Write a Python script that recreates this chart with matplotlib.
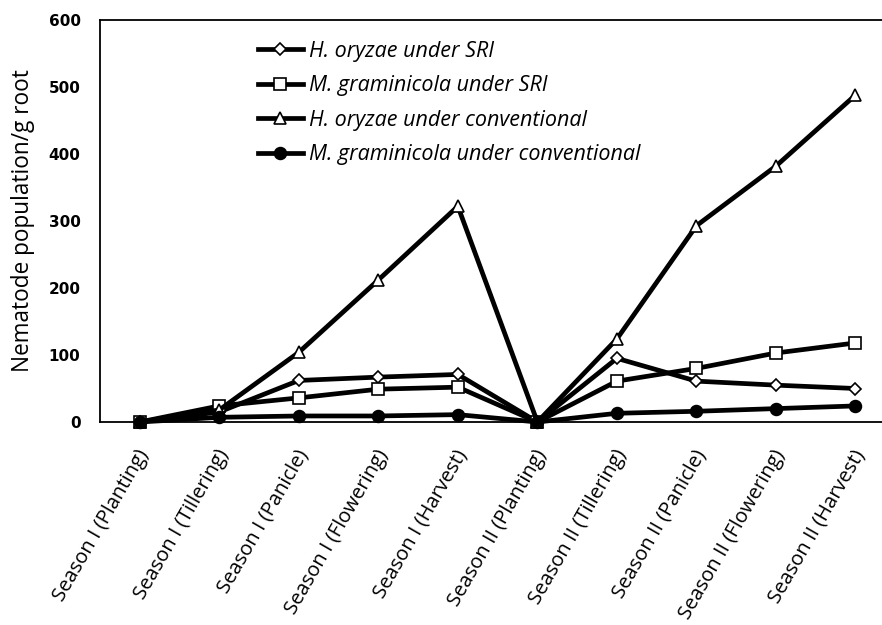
import matplotlib
matplotlib.use("Agg")
import matplotlib.pyplot as plt
import matplotlib.transforms as mtransforms

categories = ["Season I (Planting)", "Season I (Tillering)", "Season I (Panicle)",
              "Season I (Flowering)", "Season I (Harvest)", "Season II (Planting)",
              "Season II (Tillering)", "Season II (Panicle)", "Season II (Flowering)",
              "Season II (Harvest)"]
h_oryzae_sri = [0, 15, 62, 67, 71, 0, 95, 61, 55, 50]
m_gram_sri = [0, 24, 36, 49, 52, 0, 61, 80, 103, 118]
h_oryzae_conv = [0, 18, 104, 212, 322, 0, 124, 293, 382, 488]
m_gram_conv = [0, 7, 9, 9, 11, 0, 13, 16, 20, 24]
series_labels = ["H. oryzae under SRI", "M. graminicola under SRI",
                 "H. oryzae under conventional", "M. graminicola under conventional"]
yticks = [0, 100, 200, 300, 400, 500, 600]

fig = plt.figure(figsize=(8.82, 6.25), dpi=100)
ax = fig.add_axes([100/882, 1-422/625, 1-100/882, (422-20)/625])

x = list(range(len(categories)))
styles = [
    dict(marker="D", markersize=6.5, mfc="white"),
    dict(marker="s", markersize=8.5, mfc="white"),
    dict(marker="^", markersize=9, mfc="white"),
    dict(marker="o", markersize=8.5, mfc="black"),
]
for vals, lab, st in zip([h_oryzae_sri, m_gram_sri, h_oryzae_conv, m_gram_conv], series_labels, styles):
    ax.plot(x, vals, color="black", lw=3.4, mec="black", mew=1.2, label=lab, clip_on=False, zorder=3, **st)

ax.set_xlim(-0.5, (882-140)/79.5)
ax.set_ylim(0, 600)
ax.set_yticks(yticks)
ax.set_yticklabels([str(v) for v in yticks], fontfamily="DejaVu Sans", fontweight="bold", fontsize=11)
ax.tick_params(axis="y", length=0, pad=14)
ax.set_xticks(x)
ax.set_xticklabels(categories, rotation=60, ha="right", va="center", rotation_mode="anchor",
                   fontfamily="Open Sans", fontsize=14.5)
ax.tick_params(axis="x", length=0, pad=21)
offset = mtransforms.ScaledTranslation(5/100, 0, fig.dpi_scale_trans)
for lbl in ax.get_xticklabels():
    lbl.set_transform(lbl.get_transform() + offset)
for s in ["left", "bottom", "top"]:
    ax.spines[s].set_linewidth(1.3)
ax.spines["right"].set_visible(False)
ax.set_ylabel("Nematode population/g root", fontfamily="Open Sans", fontsize=16.3, labelpad=10)

leg = ax.legend(loc="upper left", bbox_to_anchor=(149/782, 1-12/402), frameon=False,
                prop=dict(family="Open Sans", style="italic", size=15.5),
                handlelength=2.1, labelspacing=0.63, handletextpad=0.3, borderaxespad=0)

fig.savefig("out.png", dpi=100)
